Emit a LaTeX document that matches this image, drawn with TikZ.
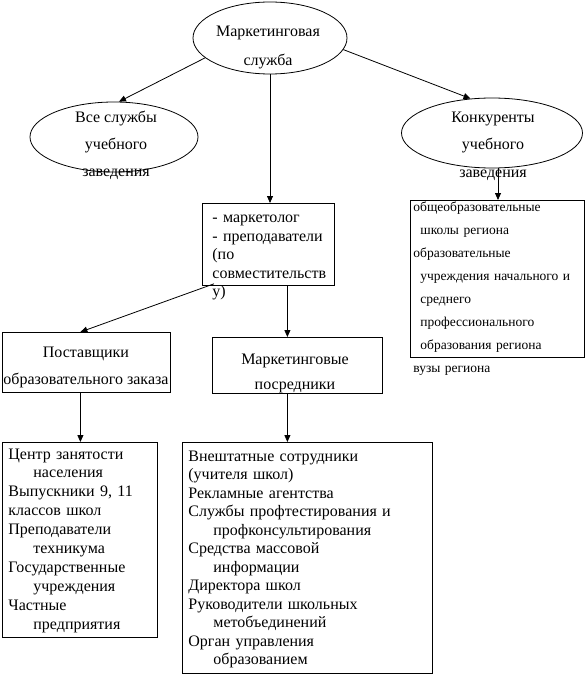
\documentclass[tikz,border=0pt]{standalone}
\usepackage{fontspec}
\setmainfont{Liberation Serif}
\usetikzlibrary{arrows.meta,shapes.geometric}
\begin{document}
\begin{tikzpicture}[x=1pt,y=-1pt,line width=0.8pt,
 ell/.style={draw, ellipse, inner sep=0pt},
 box/.style={draw, rectangle, inner sep=0pt, anchor=north west},
 arr/.style={-{Triangle[length=7pt,width=6pt]}},
 big/.style={inner sep=0pt, anchor=base, font=\fontsize{16}{18.5}\selectfont},
 lst/.style={inner sep=0pt, anchor=base west, align=left, text width=#1},
 lst/.default=240pt
]
\useasboundingbox[fill=white] (0,0) rectangle (586,674);

% ellipses
\node[ell, minimum width=154, minimum height=72] (ms) at (270,38) {};
\node[big] (ms1) at (268,37) {Маркетинговая};
\node[big] (ms2) at (268,66) {служба};

\node[ell, minimum width=168, minimum height=70] (vs) at (114,137) {};
\node[big] (vs1) at (116,122) {Все службы};
\node[big] (vs2) at (116,149) {учебного};
\node[big] (vs3) at (116,176) {заведения};

\node[ell, minimum width=181, minimum height=70] (ke) at (492,133) {};
\node[big] (ke1) at (493,122) {Конкуренты};
\node[big] (ke2) at (493,149) {учебного};
\node[big] (ke3) at (493,177) {заведения};

% middle box
\node[box, minimum width=132, minimum height=82] (mb) at (202,203) {};
\node[lst=130pt, font=\fontsize{16}{18.5}\selectfont] (mbt) at (212,222.5)
 {- маркетолог\\- преподаватели\\(по\\совместительств\\у)};

% right box
\node[box, minimum width=174, minimum height=157] (rb) at (410,200) {};
\node[lst=175pt, font=\fontsize{13.5}{23.1}\selectfont] (rbt) at (413,211)
 {общеобразовательные\\
 \hspace*{7pt}школы региона\\
 образовательные\\
 \hspace*{7pt}учреждения начального и\\
 \hspace*{7pt}среднего\\
 \hspace*{7pt}профессионального\\
 \hspace*{7pt}образования региона\\
 вузы региона};

% suppliers box
\node[box, minimum width=168, minimum height=60] (ps) at (2,332) {};
\node[big] (ps1) at (86,357) {Поставщики};
\node[big] (ps2) at (86,384) {образовательного заказа};

% intermediaries box
\node[box, minimum width=170, minimum height=56] (mp) at (212,337) {};
\node[big] (mp1) at (295,364) {Маркетинговые};
\node[big] (mp2) at (295,389) {посредники};

% bottom left list
\node[box, minimum width=155, minimum height=195] (cz) at (2,442) {};
\node[lst=150pt, font=\fontsize{16}{18.9}\selectfont] (czt) at (8,459)
 {Центр занятости\\
 \hspace*{25pt}населения\\
 Выпускники 9, 11\\
 классов школ\\
 Преподаватели\\
 \hspace*{25pt}техникума\\
 Государственные\\
 \hspace*{25pt}учреждения\\
 Частные\\
 \hspace*{25pt}предприятия};

% bottom middle list
\node[box, minimum width=250, minimum height=231] (vn) at (182,442) {};
\node[lst=245pt, font=\fontsize{16}{18.5}\selectfont] (vnt) at (188,461)
 {Внештатные сотрудники\\
 (учителя  школ)\\
 Рекламные агентства\\
 Службы профтестирования и\\
 \hspace*{25pt}профконсультирования\\
 Средства массовой\\
 \hspace*{25pt}информации\\
 Директора школ\\
 Руководители школьных\\
 \hspace*{25pt}метобъединений\\
 Орган управления\\
 \hspace*{25pt}образованием};

% connectors
\draw[arr] (ms.197) -- (vs.82);
\draw[arr] (ms.351) -- (ke.122);
\draw[arr] (ms.south) -- (ms.south |- mb.north);
\draw[arr] ([xshift=6pt]ke.south) -- ([xshift=6pt]ke.south |- rb.north);
\draw[arr] ([shift={(12pt,2pt)}]mb.south west) -- ([xshift=-6pt]ps.north);
\draw[arr] ([xshift=19pt]mb.south) -- ([xshift=19pt]mb.south |- mp.north);
\draw[arr] ([xshift=-6pt]ps.south) -- ([xshift=-6pt]ps.south |- cz.north);
\draw[arr] ([xshift=-10pt]mp.south) -- ([xshift=-10pt]mp.south |- vn.north);
\end{tikzpicture}
\end{document}
